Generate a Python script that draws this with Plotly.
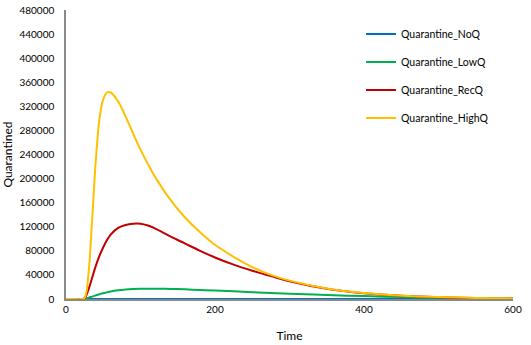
import plotly.graph_objects as go

# time steps
time = [0, 10, 20, 25, 30, 35, 40, 45, 50, 55, 60, 70, 80, 90, 100, 110, 120,
        140, 160, 180, 200, 225, 250, 275, 300, 350, 400, 450, 500, 550, 600]

# quarantined per scenario
no_q = [0] * len(time)
low_q = [0, 0, 0, 200, 2000, 4000, 6000, 8000, 9500, 11000, 12500, 14500, 15800,
         16600, 17000, 17200, 17200, 16800, 16000, 15000, 14000, 12700, 11400,
         10100, 8900, 6700, 4800, 3300, 2200, 1400, 900]
rec_q = [0, 0, 0, 1000, 15000, 35000, 55000, 72000, 86000, 98000, 107000, 118000,
         123000, 125000, 125000, 122000, 117000, 104000, 92000, 80000, 69000,
         57000, 47000, 38000, 29500, 17000, 9600, 5500, 3100, 1700, 900]
high_q = [0, 0, 0, 2000, 40000, 130000, 230000, 300000, 332000, 343000, 343000,
          328000, 303000, 275000, 248000, 224000, 202000, 165000, 135000, 111000,
          90000, 70000, 53000, 40000, 30500, 17500, 9800, 5600, 3200, 1800, 1000]

series = [
    ('Quarantine_NoQ', no_q, '#0070C0'),
    ('Quarantine_LowQ', low_q, '#00B050'),
    ('Quarantine_RecQ', rec_q, '#C00000'),
    ('Quarantine_HighQ', high_q, '#FFC000'),
]

fig = go.Figure()
for name, vals, col in series:
    fig.add_trace(go.Scatter(x=time, y=vals, mode='lines', name=name,
                             legendgroup=name, line=dict(color=col, width=2, shape='spline')))

fig.update_layout(
    width=531, height=345,
    margin=dict(l=66, r=18, t=10, b=46),
    plot_bgcolor='white', paper_bgcolor='white',
    font=dict(family='Lato, Open Sans, sans-serif', size=10, color='#000000'),
    legend=dict(x=0.66, y=0.967, xanchor='left', yanchor='top', itemwidth=30,
                font=dict(size=10.5), tracegroupgap=9, bgcolor='rgba(0,0,0,0)'),
    xaxis=dict(range=[0, 600], dtick=200, showgrid=False, zeroline=False,
               showline=True, linecolor='#898989', linewidth=1.5, ticks='',
               automargin=False,
               title=dict(text='Time', font=dict(size=12), standoff=18)),
    yaxis=dict(range=[0, 480000], dtick=40000, tickformat='d', showgrid=False,
               zeroline=False, showline=True, linecolor='#898989', linewidth=1.5,
               ticks='', automargin=False, ticklabelstandoff=8,
               title=dict(text='Quarantined', font=dict(size=12), standoff=6)),
)

# page body has a default 8px margin; drop it so the figure sits at the corner
fig.write_html("out.html", config={'displayModeBar': False},
               post_script="document.body.style.margin='0';")
